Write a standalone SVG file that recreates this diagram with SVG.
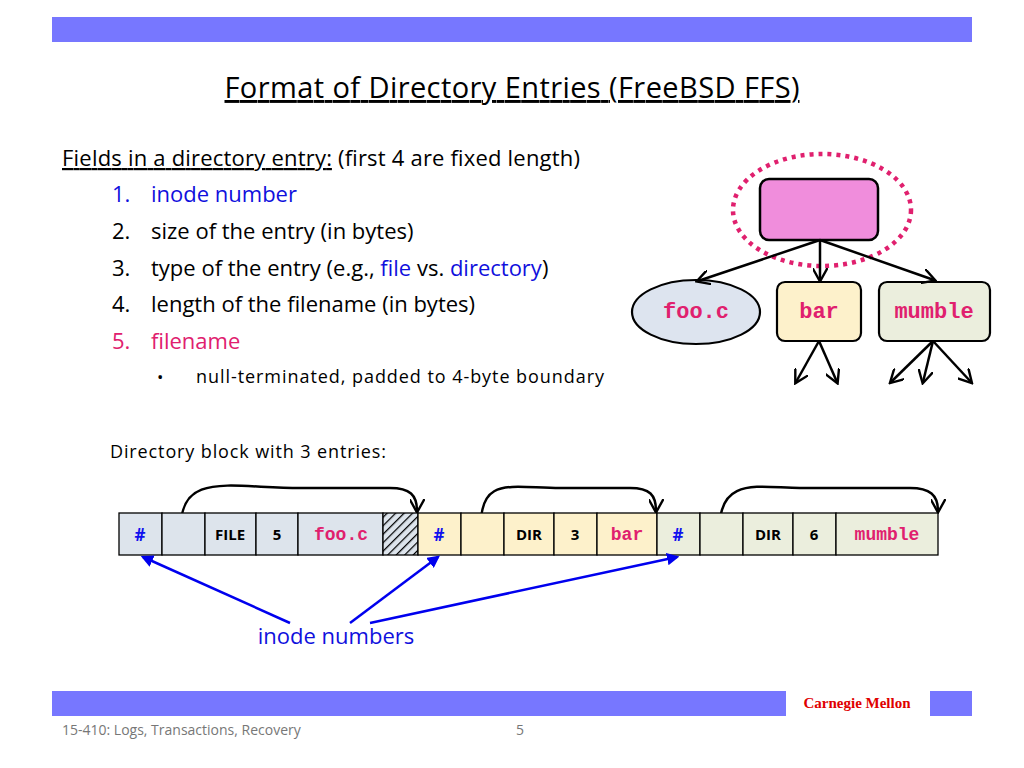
<svg xmlns="http://www.w3.org/2000/svg" width="1024" height="768" viewBox="0 0 1024 768">
<defs>
<marker id="ah" viewBox="0 0 10 10" refX="8" refY="5" markerWidth="6" markerHeight="6" orient="auto-start-reverse"><path d="M0,0 L9,5 L0,10" fill="none" stroke="#000" stroke-width="1.6"/></marker>
<marker id="bh" viewBox="0 0 10 10" refX="8" refY="5" markerWidth="5" markerHeight="5" orient="auto"><path d="M0,0 L10,5 L0,10 z" fill="#0000ee"/></marker>
<pattern id="hatch" width="6" height="6" patternUnits="userSpaceOnUse" patternTransform="rotate(45)"><rect width="6" height="6" fill="#dde4ec"/><line x1="0" y1="0" x2="0" y2="6" stroke="#000" stroke-width="2.5"/></pattern>
<style>
.t{font-family:"Open Sans","Liberation Sans",sans-serif;fill:#000}
.m{font-family:"Liberation Mono",monospace;font-weight:bold;fill:#e0206e}
.c{stroke:#000;stroke-width:1.3}
.b{font-family:"Open Sans","Liberation Sans",sans-serif;font-weight:bold;font-size:15px;fill:#000}
.h{font-family:"Open Sans","Liberation Sans",sans-serif;font-weight:bold;font-size:17px;fill:#1010ee}
</style>
</defs>
<rect x="52" y="17" width="920" height="25" fill="#7777ff"/>
<text x="512" y="98" text-anchor="middle" class="t" font-size="29" textLength="575" text-decoration="underline">Format of Directory Entries (FreeBSD FFS)</text>
<g class="t" font-size="22">
<text x="62" y="166" textLength="518"><tspan text-decoration="underline">Fields in a directory entry:</tspan> (first 4 are fixed length)</text>
<text x="112" y="202" style="fill:#1010dd">1.</text><text x="151" y="202" style="fill:#1010dd">inode number</text>
<text x="112" y="239">2.</text><text x="151" y="239">size of the entry (in bytes)</text>
<text x="112" y="276">3.</text><text x="151" y="276">type of the entry (e.g., <tspan style="fill:#1010dd">file</tspan> vs. <tspan style="fill:#1010dd">directory</tspan>)</text>
<text x="112" y="312">4.</text><text x="151" y="312">length of the filename (in bytes)</text>
<text x="112" y="349" style="fill:#e0206e">5.</text><text x="151" y="349" style="fill:#e0206e">filename</text>
</g>
<text x="157" y="383" class="t" font-size="17">•</text>
<text x="196" y="383" class="t" font-size="18" textLength="408">null-terminated, padded to 4-byte boundary</text>
<text x="110" y="458" class="t" font-size="18" textLength="276">Directory block with 3 entries:</text>
<g id="tree">
<ellipse cx="822" cy="210" rx="89" ry="56" fill="none" stroke="#e0206e" stroke-width="4.5" stroke-dasharray="4,5"/>
<rect id="root" x="760" y="179" width="118" height="61" rx="9" fill="#f08ddc" stroke="#000" stroke-width="2.5"/>
<g id="n-foo"><ellipse cx="696" cy="312" rx="64" ry="32" fill="#dde4ef" stroke="#000" stroke-width="2.2"/><text x="696" y="318" text-anchor="middle" class="m" font-size="22">foo.c</text></g>
<g id="n-bar"><rect x="777" y="282" width="84" height="59" rx="8" fill="#fdf1cb" stroke="#000" stroke-width="2.2"/><text x="819" y="318" text-anchor="middle" class="m" font-size="22">bar</text></g>
<g id="n-mumble"><rect x="879" y="282" width="111" height="59" rx="8" fill="#ebeedd" stroke="#000" stroke-width="2.2"/><text x="934" y="318" text-anchor="middle" class="m" font-size="22">mumble</text></g>
</g>
<g id="connectors" stroke="#000" stroke-width="2.5" fill="none" marker-end="url(#ah)">
<line x1="820" y1="240" x2="698" y2="281"/>
<line x1="820" y1="240" x2="820" y2="280"/>
<line x1="820" y1="240" x2="934" y2="280"/>
<line x1="819" y1="341" x2="796" y2="382"/>
<line x1="819" y1="341" x2="837" y2="382"/>
<line x1="933" y1="341" x2="891" y2="382"/>
<line x1="933" y1="341" x2="923" y2="382"/>
<line x1="933" y1="341" x2="971" y2="382"/>
<path d="M181,532 C178,470 230,488 300,488 L390,488 C410,488 417,495 417,511"/>
<path d="M481,532 C478,475 510,488 560,488 L630,488 C650,488 656,495 656,511"/>
<path d="M720,532 C717,475 760,488 800,488 L910,488 C930,488 938,495 938,511"/>
</g>
<g id="block">
<g fill="#dde4ec" class="c"><rect x="119" y="513" width="43" height="42"/><rect x="162" y="513" width="43" height="42"/><rect x="205" y="513" width="51" height="42"/><rect x="256" y="513" width="42" height="42"/><rect x="298" y="513" width="85" height="42"/></g>
<rect x="383" y="513" width="35" height="42" fill="url(#hatch)" class="c"/>
<g fill="#fdf1cb" class="c"><rect x="418" y="513" width="43" height="42"/><rect x="461" y="513" width="43" height="42"/><rect x="504" y="513" width="50" height="42"/><rect x="554" y="513" width="43" height="42"/><rect x="597" y="513" width="60" height="42"/></g>
<g fill="#ebeedd" class="c"><rect x="657" y="513" width="43" height="42"/><rect x="700" y="513" width="43" height="42"/><rect x="743" y="513" width="50" height="42"/><rect x="793" y="513" width="43" height="42"/><rect x="836" y="513" width="102" height="42"/></g>
<text x="140" y="541" text-anchor="middle" class="h">#</text>
<text x="230" y="540" text-anchor="middle" class="b">FILE</text>
<text x="277" y="540" text-anchor="middle" class="b">5</text>
<text x="341" y="540" text-anchor="middle" class="m" font-size="18">foo.c</text>
<text x="439" y="541" text-anchor="middle" class="h">#</text>
<text x="529" y="540" text-anchor="middle" class="b">DIR</text>
<text x="575" y="540" text-anchor="middle" class="b">3</text>
<text x="627" y="540" text-anchor="middle" class="m" font-size="18">bar</text>
<text x="678" y="541" text-anchor="middle" class="h">#</text>
<text x="768" y="540" text-anchor="middle" class="b">DIR</text>
<text x="814" y="540" text-anchor="middle" class="b">6</text>
<text x="887" y="540" text-anchor="middle" class="m" font-size="18">mumble</text>
</g>
<g id="inode-arrows" stroke="#0000ee" stroke-width="2.5" fill="none" marker-end="url(#bh)">
<line x1="290" y1="623" x2="143" y2="557"/>
<line x1="350" y1="623" x2="438" y2="557"/>
<line x1="370" y1="623" x2="677" y2="557"/>
</g>
<text x="336" y="644" text-anchor="middle" class="t" font-size="22" style="fill:#1010dd">inode numbers</text>
<rect x="52" y="691" width="734" height="25" fill="#7777ff"/>
<rect x="930" y="691" width="42" height="25" fill="#7777ff"/>
<text x="857" y="708" text-anchor="middle" font-family="Liberation Serif,serif" font-weight="bold" font-size="15" fill="#e00000">Carnegie Mellon</text>
<text x="62" y="735" class="t" font-size="14" style="fill:#777">15-410: Logs, Transactions, Recovery</text>
<text x="520" y="735" text-anchor="middle" class="t" font-size="14" style="fill:#777">5</text>
</svg>
